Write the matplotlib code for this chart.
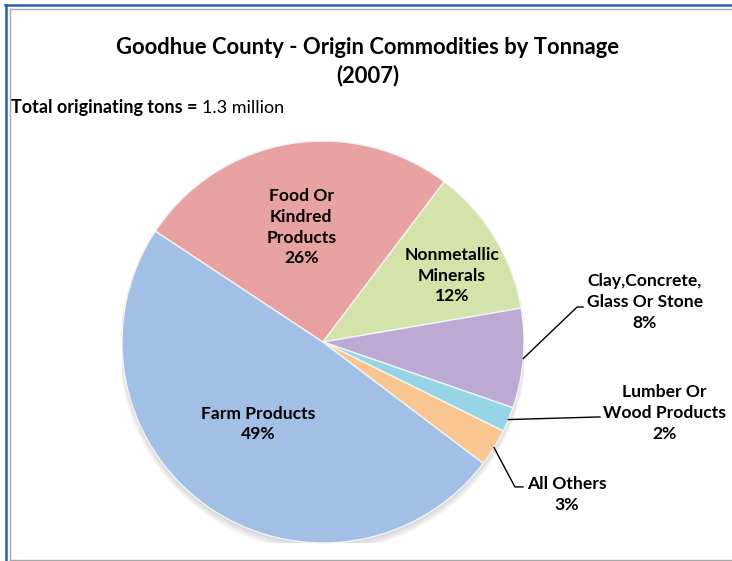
import numpy as np
import matplotlib
matplotlib.use("Agg")
import matplotlib.pyplot as plt
from matplotlib.lines import Line2D

plt.rcParams['font.family'] = ['Lato', 'DejaVu Sans']

categories = ["Farm Products", "Food Or\nKindred\nProducts", "Nonmetallic\nMinerals",
              "Clay,Concrete,\nGlass Or Stone", "Lumber Or\nWood Products", "All Others"]
values = [49, 26, 12, 8, 2, 3]
colors = ["#A2BFE6", "#E8A2A1", "#D4E3A9", "#BCAAD5", "#95D5E5", "#F9C591"]

W, H = 732, 561
fig = plt.figure(figsize=(W / 100, H / 100), dpi=100)
fig.patch.set_facecolor("white")

def fx(px):
    return px / W
def fy(py):
    return 1 - py / H

blue = "#2563AE"
gray = "#A6A6A6"
fig.add_artist(Line2D([fx(5), fx(732)], [fy(5), fy(5)], color=blue, lw=1.8))
fig.add_artist(Line2D([fx(6), fx(6)], [fy(5), fy(561)], color=blue, lw=1.8))
fig.add_artist(Line2D([fx(10), fx(732)], [fy(9), fy(9)], color=gray, lw=1.0))
fig.add_artist(Line2D([fx(10), fx(10)], [fy(9), fy(559.5)], color=gray, lw=1.0))
fig.add_artist(Line2D([fx(10), fx(732)], [fy(559.5), fy(559.5)], color=gray, lw=1.0))

# titles
fig.text(fx(368), fy(48), "Goodhue County - Origin Commodities by Tonnage",
         ha="center", va="center", fontsize=15.8, fontweight="bold", color="black")
fig.text(fx(368), fy(76), "(2007)", ha="center", va="center",
         fontsize=15.8, fontweight="bold", color="black")
t1 = fig.text(fx(11), fy(108), "Total originating tons = ", ha="left", va="center",
              fontsize=13.0, fontweight="bold", color="black")
fig.canvas.draw()
bb = t1.get_window_extent()
fig.text(bb.x1 / W, fy(108), "1.3 million", ha="left", va="center",
         fontsize=13.0, color="black")

# pie axes: centre (323, 342) px, radius 201 px
cx, cy, R = 323, 342, 201
ax = fig.add_axes([(cx - R) / W, (H - cy - R) / H, 2 * R / W, 2 * R / H])

# soft shadow
for k in range(4):
    ax.add_patch(plt.Circle((0.0, -0.012 - 0.006 * k), 1.0 + 0.004 * k,
                            color="#404040", alpha=0.05, lw=0, zorder=0))

wedges, _ = ax.pie(values, colors=colors, startangle=-37.1, counterclock=False,
                   radius=1.0, center=(0, 0), frame=True,
                   wedgeprops=dict(edgecolor="#F4F4F4", linewidth=1.0))
ax.set_xlim(-1, 1)
ax.set_ylim(-1, 1)
ax.set_aspect("equal")
ax.axis("off")
for w in wedges:
    w.set_zorder(2)

def mid_angle(w):
    return np.deg2rad((w.theta1 + w.theta2) / 2)

labels = [f"{c}\n{v}%" for c, v in zip(categories, values)]
fs = 12.6
ls = 1.36

# inside labels: (radius factor, angle offset in degrees)
inside = {0: (0.52, -3.0), 1: (0.58, 1.0), 2: (0.72, -4.0)}
for i, (r, off) in inside.items():
    a = mid_angle(wedges[i]) + np.deg2rad(off)
    ax.text(r * np.cos(a), r * np.sin(a), labels[i], ha="center", va="center",
            fontsize=fs, fontweight="bold", linespacing=ls, zorder=5)

# outside labels with leader lines
outside = {
    3: dict(text=(1.60, 0.199), elbow=(1.264, 0.174), end=(1.294, 0.174)),
    4: dict(text=(1.697, -0.353), elbow=(1.37, -0.373), end=(1.378, -0.373)),
    5: dict(text=(1.214, -0.759), elbow=(0.955, -0.721), end=(0.995, -0.721)),
}
for i, d in outside.items():
    a = mid_angle(wedges[i])
    sx, sy = 1.0 * np.cos(a), 1.0 * np.sin(a)
    ax.plot([sx, d["elbow"][0], d["end"][0]], [sy, d["elbow"][1], d["end"][1]],
            color="black", lw=1.0, clip_on=False, zorder=5)
    ax.text(d["text"][0], d["text"][1], labels[i], ha="center", va="center",
            fontsize=fs, fontweight="bold", linespacing=ls, zorder=5,
            clip_on=False)

fig.savefig("out.png", dpi=100, facecolor="white")
